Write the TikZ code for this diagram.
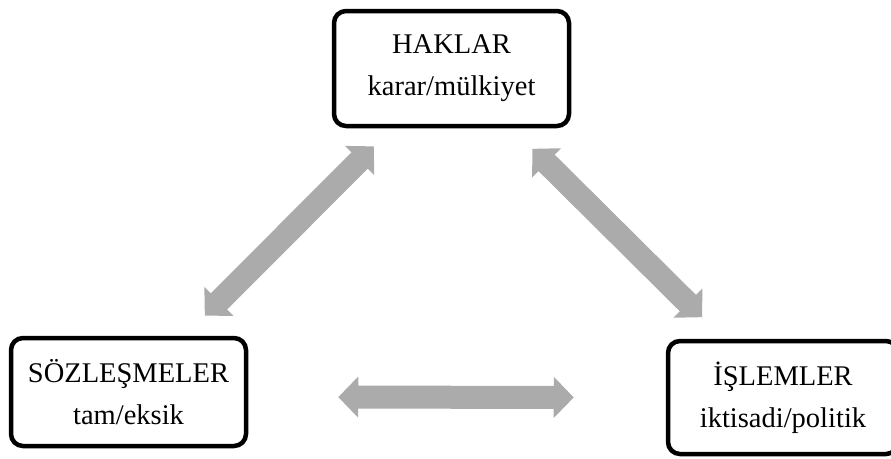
\documentclass[tikz,border=0pt]{standalone}
\usepackage{fontspec}
\setmainfont{Liberation Serif}
\usetikzlibrary{arrows.meta}
\definecolor{arrowgray}{HTML}{ABABAB}
\tikzset{
  box/.style={draw=black, line width=4.5pt, rounded corners=12pt, fill=white,
    align=center, inner sep=0pt, font=\fontsize{28.5}{42}\selectfont},
  fatarrow/.style={draw=arrowgray, line width=23pt, line cap=butt,
    {Triangle[length=20pt,width=40pt,fill=arrowgray]}-{Triangle[length=20pt,width=40pt,fill=arrowgray]}}
}
\begin{document}
\begin{tikzpicture}[x=1pt,y=-1pt]
\useasboundingbox[fill=white] (0,0) rectangle (891,458);
\node[box, minimum width=235pt, minimum height=115pt] (h) at (451.5,68.5) {HAKLAR\\karar/mülkiyet};
\node[box, minimum width=235pt, minimum height=108pt] (s) at (128.5,392) {SÖZLEŞMELER\\tam/eksik};
\node[box, minimum width=230pt, minimum height=113pt] (i) at (783,397.5) {İŞLEMLER\\iktisadi/politik};
\draw[fatarrow, shorten <=108pt, shorten >=110pt] (s.center) -- (h.center);
\draw[fatarrow, shorten <=114pt, shorten >=114pt] (h.center) -- (i.center);
\draw[fatarrow, shorten <=90pt, shorten >=92pt] ([yshift=-5pt]s.east) -- (i.west);
\end{tikzpicture}
\end{document}
